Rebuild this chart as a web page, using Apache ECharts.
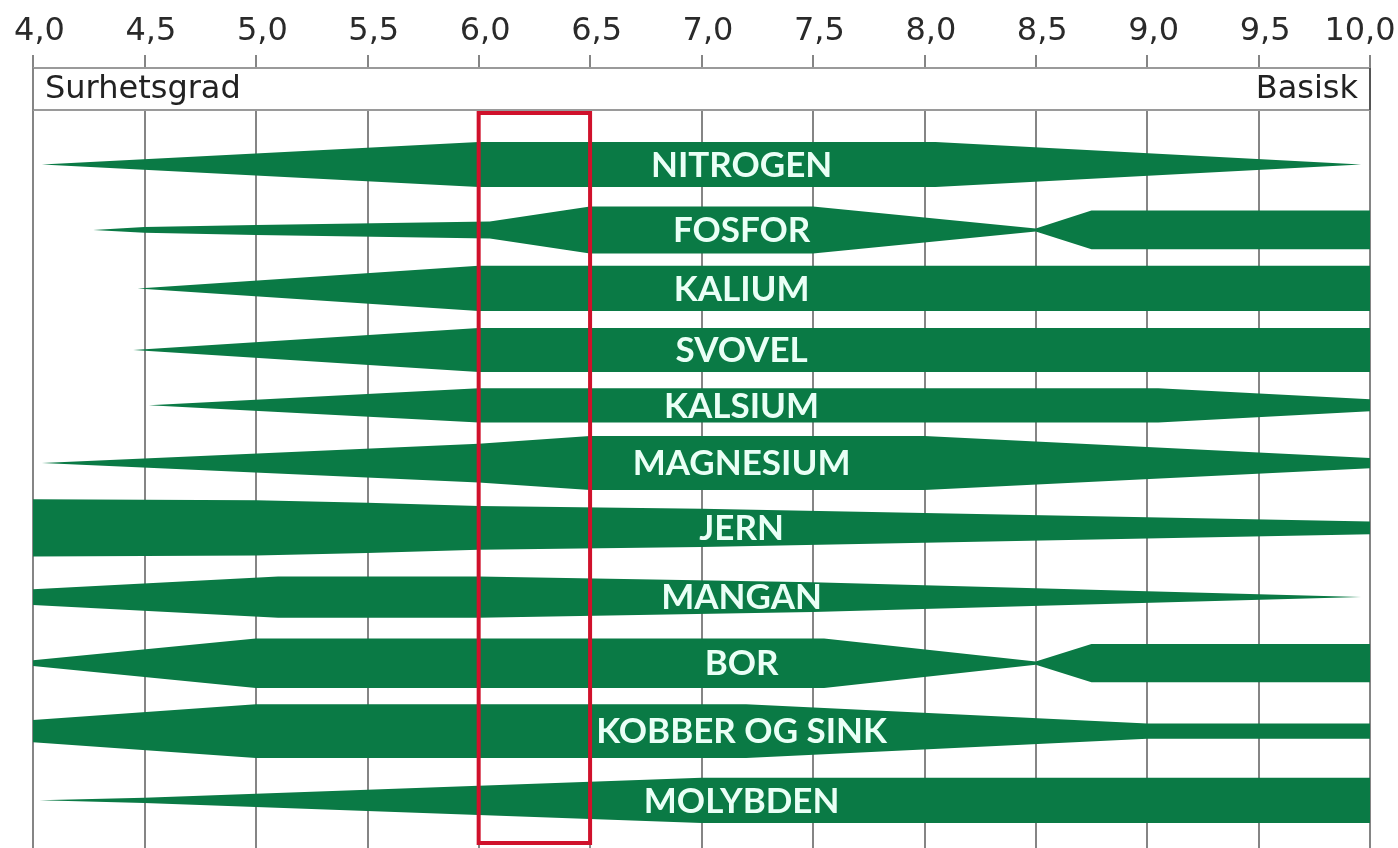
<!DOCTYPE html>
<html>
<head>
<meta charset="utf-8">
<title>Næringsstoffer og pH</title>
<script src="https://cdn.jsdelivr.net/npm/echarts@6/dist/echarts.min.js"></script>
<style>
html,body{margin:0;padding:0;background:#fff;}
#chart{width:1398px;height:848px;}
</style>
</head>
<body>
<div id="chart"></div>
<script>
// pH-skala
var phMin = 4, phMax = 10, phStep = 0.5;
var optimalRange = [6.0, 6.5];
var labelPh = 7.18;

var nutrients = ['NITROGEN', 'FOSFOR', 'KALIUM', 'SVOVEL', 'KALSIUM', 'MAGNESIUM',
                 'JERN', 'MANGAN', 'BOR', 'KOBBER OG SINK', 'MOLYBDEN'];
// midtlinje for hvert felt på den skjulte y-aksen
var rowCenter = [1.52, 2.55, 3.47, 4.44, 5.31, 6.22, 7.24, 8.33, 9.37, 10.44, 11.53];

// tilgjengelighet: [pH, bredde]
var nitrogen  = [[4.04, 0], [6.0, 0.71], [8.05, 0.71], [9.96, 0]];
var fosfor    = [[4.27, 0], [4.5, 0.09], [5.0, 0.16], [6.05, 0.27], [6.5, 0.74], [7.5, 0.74], [8.5, 0.05], [8.75, 0.61], [10, 0.61]];
var kalium    = [[4.47, 0], [6.0, 0.71], [10, 0.71]];
var svovel    = [[4.45, 0], [6.0, 0.69], [10, 0.69]];
var kalsium   = [[4.52, 0], [6.0, 0.54], [9.05, 0.54], [10, 0.19]];
var magnesium = [[4.04, 0], [6.0, 0.61], [6.5, 0.85], [8.0, 0.85], [10, 0.16]];
var jern      = [[4.0, 0.90], [5.0, 0.87], [5.5, 0.79], [6.0, 0.69], [7.0, 0.60], [10, 0.20]];
var mangan    = [[4.0, 0.25], [5.1, 0.65], [6.0, 0.65], [7.5, 0.47], [9.96, 0]];
var bor       = [[4.0, 0.09], [5.0, 0.78], [7.55, 0.78], [8.5, 0.05], [8.75, 0.60], [10, 0.60]];
var kobber    = [[4.0, 0.35], [5.0, 0.85], [7.2, 0.85], [9.0, 0.24], [10, 0.24]];
var molybden  = [[4.03, 0], [4.5, 0.08], [7.0, 0.71], [10, 0.71]];

var shapes = [nitrogen, fosfor, kalium, svovel, kalsium, magnesium, jern, mangan, bor, kobber, molybden];

var green = '#0a7a45';
var gridColor = '#858585';
var headerBottom = 0.66, boxTop = 0.71, boxBottom = 12.2;

var chart = echarts.init(document.getElementById('chart'));

function renderBand(params, api) {
    var i = api.value(0);
    var c = rowCenter[i];
    var top = [], bottom = [];
    shapes[i].forEach(function (p) {
        top.push(api.coord([p[0], c - p[1] / 2]));
        bottom.unshift(api.coord([p[0], c + p[1] / 2]));
    });
    var pos = api.coord([labelPh, c]);
    return {
        type: 'group',
        children: [
            {type: 'polygon', shape: {points: top.concat(bottom)}, style: {fill: green}},
            {type: 'text', x: pos[0], y: pos[1] + 1, style: {
                text: nutrients[i], fill: '#eafff6', font: 'bold 35px Lato',
                align: 'center', verticalAlign: 'middle'}}
        ]
    };
}

function renderHeader(params, api) {
    var a = api.coord([phMin, 0]), b = api.coord([phMax, headerBottom]);
    return {
        type: 'group',
        children: [
            {type: 'rect', shape: {x: a[0], y: a[1], width: b[0] - a[0], height: b[1] - a[1]}, style: {fill: '#fff'}},
            {type: 'line', shape: {x1: a[0], y1: a[1], x2: b[0], y2: a[1]}, style: {stroke: '#9a9a9a', lineWidth: 2}},
            {type: 'line', shape: {x1: a[0], y1: b[1], x2: b[0], y2: b[1]}, style: {stroke: '#9a9a9a', lineWidth: 2}},
            {type: 'line', shape: {x1: a[0], y1: a[1], x2: a[0], y2: b[1]}, style: {stroke: gridColor, lineWidth: 2}},
            {type: 'line', shape: {x1: b[0], y1: a[1], x2: b[0], y2: b[1]}, style: {stroke: '#555', lineWidth: 2}},
            {type: 'text', x: a[0] + 12, y: (a[1] + b[1]) / 2 + 1, style: {
                text: 'Surhetsgrad', fill: '#222', font: '32px "DejaVu Sans"', verticalAlign: 'middle'}},
            {type: 'text', x: b[0] - 12, y: (a[1] + b[1]) / 2 + 1, style: {
                text: 'Basisk', fill: '#222', font: '32px "DejaVu Sans"', align: 'right', verticalAlign: 'middle'}}
        ]
    };
}

function renderBox(params, api) {
    var a = api.coord([optimalRange[0], boxTop]), b = api.coord([optimalRange[1], boxBottom]);
    return {
        type: 'rect',
        shape: {x: a[0], y: a[1], width: b[0] - a[0], height: b[1] - a[1]},
        style: {fill: 'none', stroke: '#d0112b', lineWidth: 4}
    };
}

var option = {
    animation: false,
    backgroundColor: '#fff',
    grid: {left: 33, right: 28, top: 68, bottom: 0, outerBoundsMode: 'none'},
    xAxis: {
        type: 'value', position: 'top', min: phMin, max: phMax, interval: phStep,
        axisLine: {show: true, lineStyle: {color: '#9a9a9a', width: 2}},
        axisTick: {show: true, length: 13, lineStyle: {color: gridColor, width: 2}},
        splitLine: {show: true, lineStyle: {color: gridColor, width: 2}},
        axisLabel: {
            margin: 20,
            formatter: function (v) {
                var s = v.toFixed(1).replace('.', ',');
                if (v === phMax) return '{v|' + s + '}{r| }';
                return '{l| }{v|' + s + '}';
            },
            rich: {
                v: {fontSize: 32, fontFamily: 'DejaVu Sans', color: '#2a2a2a'},
                l: {width: 13, fontSize: 32},
                r: {width: 20, fontSize: 32}
            }
        }
    },
    yAxis: {type: 'value', min: 0, max: 12.28, inverse: true, show: false, splitLine: {show: false}},
    series: [
        {type: 'custom', renderItem: renderHeader, data: [[0]], silent: true, z: 3},
        {type: 'custom', renderItem: renderBand, data: nutrients.map(function (n, i) { return [i]; }), silent: true, z: 4},
        {type: 'custom', renderItem: renderBox, data: [[0]], silent: true, z: 5}
    ]
};

chart.setOption(option);
</script>
</body>
</html>
